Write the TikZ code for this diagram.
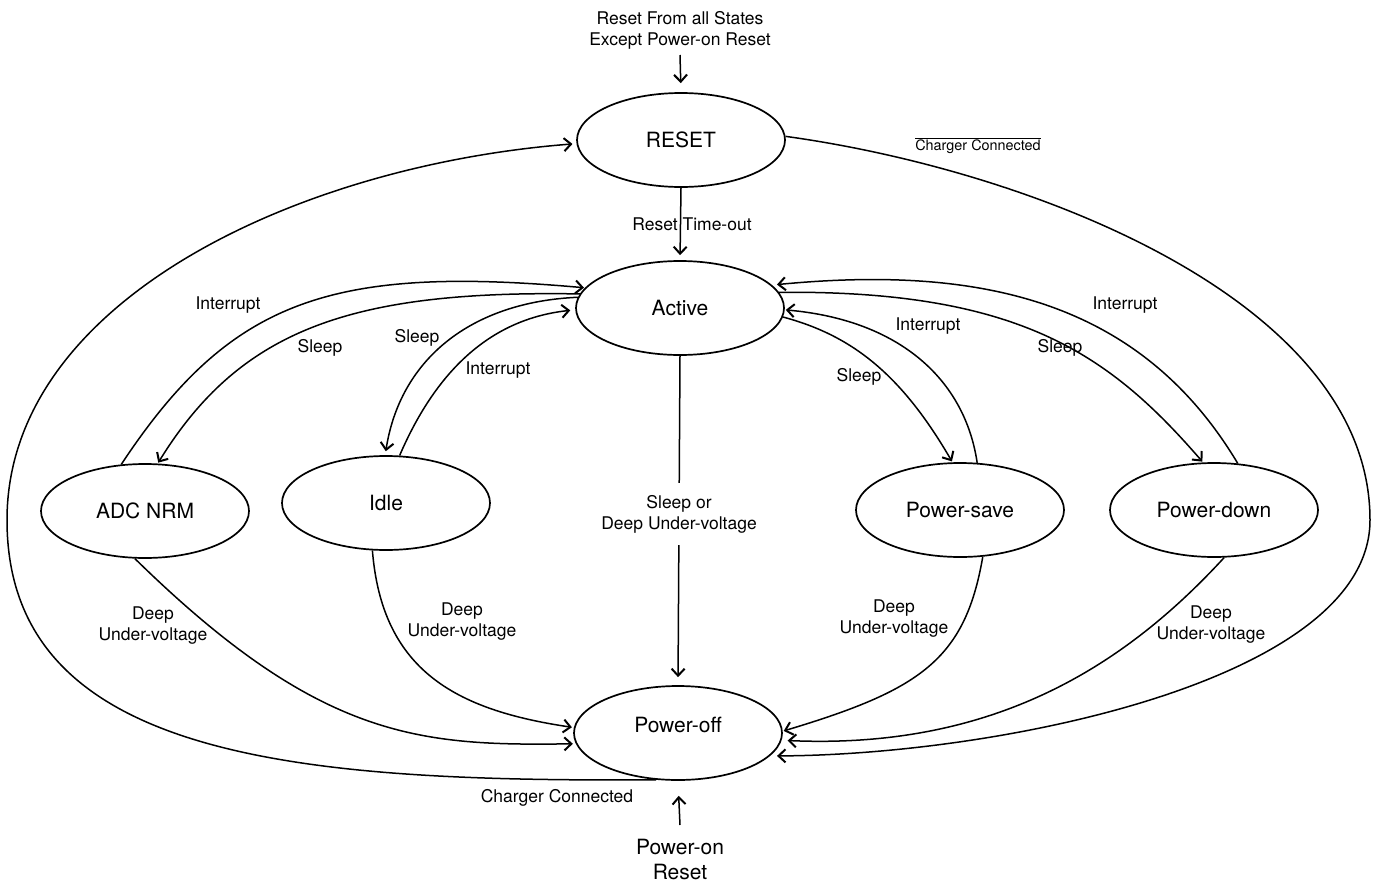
\documentclass[tikz,border=0pt]{standalone}
\usepackage{fontspec}
\setmainfont{TeX Gyre Heros}
\usetikzlibrary{shapes.geometric,arrows.meta}
\tikzset{
  state/.style={ellipse, draw, line width=1.7pt, minimum width=208pt, minimum height=94pt, inner sep=0pt, font=\fontsize{21}{25}\selectfont},
  lbl/.style={font=\fontsize{17.5}{21}\selectfont, align=center, inner sep=0pt},
  arr/.style={-{Straight Barb[length=7pt,width=13pt,line width=2pt]}, line width=1.5pt},
}
\begin{document}
\begin{tikzpicture}[x=1pt,y=-1pt]
\useasboundingbox (0,0) rectangle (1377,884);
% states
\node[state] (R) at (681,140) {RESET};
\node[state] (A) at (680,308) {Active};
\node[state] (ADC) at (145,511) {ADC NRM};
\node[state] (I) at (386,503) {Idle};
\node[state] (PS) at (960,510) {Power-save};
\node[state] (PD) at (1214,510) {Power-down};
\node[state, text height=15pt, text depth=16pt] (PO) at (678,733) {Power-off};
% outer texts
\node[lbl] (top) at (680,30) {Reset From all States\\Except Power-on Reset};
\coordinate (rin) at (680,55);
\node[lbl, font=\fontsize{21}{25}\selectfont] (pon) at (680,859.5) {Power-on\\Reset};
\coordinate (pin) at (680,825);
% straight arrows
\draw[arr, shorten >=9pt] (rin) -- (R.north);
\draw[arr, shorten >=5pt] (R.south) -- (A.north);
\node[lbl] (lrt) at (692,224) {Reset Time-out};
\draw[arr, shorten >=8pt] (A.south) -- node[lbl, fill=white, inner ysep=12pt, inner xsep=3pt, pos=0.48] (lsd) {Sleep or\\Deep Under-voltage} (PO.north);
\draw[arr, shorten >=15pt] (pin) -- (PO.south);
% big outer curves
\draw[arr, shorten >=4pt] (PO.245) .. controls (300,782) and (7,760) .. (7,520) .. controls (7,300) and (300,165) .. (R.182);
\node[lbl] (lcc) at (557,798) {Charger Connected};
\draw[arr, shorten >=7pt] (R.2) .. controls (1030,170) and (1370,300) .. (1370,520) .. controls (1370,680) and (1000,755) .. (PO.-14);
\node[lbl, font=\fontsize{14.4}{17}\selectfont] (lncc) at (978,146) {$\overline{\mbox{Charger Connected}}$};
% ADC NRM
\draw[arr, shorten >=1pt] (ADC.117.6) .. controls (230,300) and (330,265) .. (A.168.8);
\draw[arr, shorten >=1pt] (A.172) .. controls (350,290) and (240,330) .. (ADC.75);
\node[lbl] (l1) at (228,305) {Interrupt};
\node[lbl] (l2) at (320,348) {Sleep};
% Idle
\draw[arr, shorten >=4pt] (A.174.6) .. controls (470,302) and (400,360) .. (I.91);
\draw[arr, shorten >=5pt] (I.74.4) .. controls (430,385) and (480,320) .. (A.181.6);
\node[lbl] (l3) at (417,338) {Sleep};
\node[lbl] (l4) at (498,370) {Interrupt};
% Power-save
\draw[arr, shorten >=1pt] (A.-5) .. controls (850,335) and (900,372) .. (PS.99.5);
\draw[arr, shorten >=1pt] (PS.70.2) .. controls (965,380) and (900,320) .. (A.-1);
\node[lbl] (l5) at (859,377) {Sleep};
\node[lbl] (l6) at (928,326) {Interrupt};
% Power-down
\draw[arr, shorten >=1pt] (A.9) .. controls (1020,290) and (1110,355) .. (PD.103);
\draw[arr, shorten >=5pt] (PD.63.4) .. controls (1140,300) and (980,265) .. (A.14.2);
\node[lbl] (l7) at (1060,348) {Sleep};
\node[lbl] (l8) at (1125,305) {Interrupt};
% deep under-voltage
\draw[arr, shorten >=3pt] (ADC.258.5) .. controls (320,740) and (420,746) .. (PO.186.5);
\node[lbl] (d1) at (153,625.5) {Deep\\Under-voltage};
\draw[arr, shorten >=2pt] (I.254.8) .. controls (382,670) and (455,710) .. (PO.177);
\node[lbl] (d2) at (462,621.5) {Deep\\Under-voltage};
\draw[arr, shorten >=1pt] (PS.-64) .. controls (965,660) and (920,690) .. (PO.1.6);
\node[lbl] (d3) at (894,618.5) {Deep\\Under-voltage};
\draw[arr, shorten >=6pt] (PD.-78) .. controls (1130,660) and (1000,750) .. (PO.-4.7);
\node[lbl] (d4) at (1211,625) {Deep\\Under-voltage};
\end{tikzpicture}
\end{document}
